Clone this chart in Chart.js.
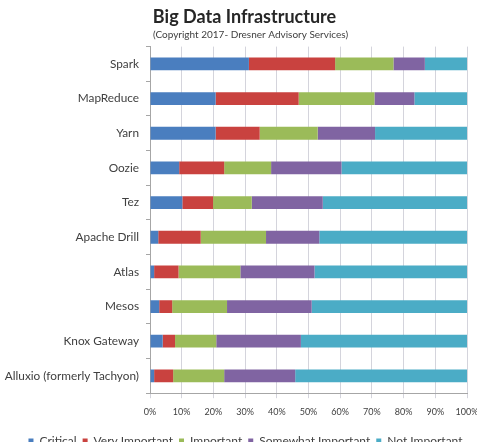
<!DOCTYPE html>
<html>
<head>
<meta charset="utf-8">
<script src="https://cdn.jsdelivr.net/npm/chart.js@4/dist/chart.umd.min.js"></script>
<style>
  html, body { margin: 0; padding: 0; background: #ffffff; }
  #wrap { width: 477px; height: 442px; position: relative; }
</style>
</head>
<body>
<div id="wrap"><canvas id="c" width="477" height="442"></canvas></div>
<script>
const categories = ["Spark", "MapReduce", "Yarn", "Oozie", "Tez", "Apache Drill", "Atlas", "Mesos", "Knox Gateway", "Alluxio (formerly Tachyon)"];
const critical          = [31.2, 20.7, 20.7,  9.2, 10.2,  2.6,  1.3,  2.9,  4.0,  1.3];
const veryImportant     = [27.2, 26.2, 13.9, 14.2,  9.7, 13.4,  7.7,  4.1,  3.9,  6.0];
const important         = [18.4, 23.9, 18.3, 14.8, 12.2, 20.6, 19.5, 17.3, 13.0, 16.1];
const somewhatImportant = [ 9.9, 12.6, 18.1, 22.2, 22.4, 16.8, 23.4, 26.7, 26.7, 22.4];
const notImportant      = [13.3, 16.6, 29.0, 39.6, 45.5, 46.6, 48.1, 49.0, 52.4, 54.2];
const seriesNames = ["Critical", "Very Important", "Important", "Somewhat Important", "Not Important"];
const seriesColors = ["#4a7ebf", "#c9423f", "#9bbb59", "#8064a2", "#4bacc6"];
const xTicks = [0, 10, 20, 30, 40, 50, 60, 70, 80, 90, 100];

const TITLE = 'Big Data Infrastructure';
const SUBTITLE = '(Copyright 2017- Dresner Advisory Services)';
const FONT = "Lato, 'Liberation Sans', sans-serif";
const seriesData = [critical, veryImportant, important, somewhatImportant, notImportant];

const shiftBoxes = {
  id: 'shiftBoxes',
  afterLayout(chart) {
    const l = chart.legend;
    if (l) { l.left += 12; l.right += 12; }
    for (const b of chart.boxes) {
      if (!b.options || typeof b.options.text !== 'string') continue;
      const d = b.options.text === TITLE ? 11 : (b.options.text === SUBTITLE ? 17 : 0);
      b.left += d; b.right += d;
    }
  }
};

new Chart(document.getElementById('c'), {
  type: 'bar',
  data: {
    labels: categories,
    datasets: seriesNames.map((n, i) => ({
      label: n,
      data: seriesData[i],
      backgroundColor: seriesColors[i],
      borderWidth: 0,
      barPercentage: 0.74,
      categoryPercentage: 0.5
    }))
  },
  plugins: [shiftBoxes],
  options: {
    indexAxis: 'y',
    responsive: false,
    animation: false,
    devicePixelRatio: 1,
    layout: { padding: { left: 0, right: 10, top: 0, bottom: -15 } },
    plugins: {
      title: {
        display: true,
        text: TITLE,
        color: '#262626',
        font: { family: FONT, size: 18, weight: 'bold' },
        padding: { top: 6, bottom: 1 }
      },
      subtitle: {
        display: true,
        text: SUBTITLE,
        color: '#404040',
        font: { family: FONT, size: 10 },
        padding: { top: 0, bottom: 6 }
      },
      legend: {
        position: 'bottom',
        labels: {
          color: '#404040',
          font: { family: FONT, size: 12 },
          boxWidth: 5,
          boxHeight: 5,
          padding: 6
        }
      },
      tooltip: { enabled: false }
    },
    scales: {
      x: {
        stacked: true,
        min: 0,
        max: 100,
        afterBuildTicks: (s) => { s.ticks = xTicks.map(v => ({ value: v })); },
        afterFit: (s) => { s.paddingRight = 0; s.paddingLeft = 0; s.height += 4; },
        ticks: {
          color: '#404040',
          font: { family: FONT, size: 9 },
          padding: 8,
          callback: (v) => v + '%'
        },
        grid: { color: '#d4d4dc', lineWidth: 1, tickLength: 5 },
        border: { color: '#a6a6a6' }
      },
      y: {
        stacked: true,
        afterFit: (s) => { s.width = 150; },
        ticks: {
          color: '#404040',
          font: { family: FONT, size: 11.8 },
          padding: 7
        },
        grid: { drawOnChartArea: false, offset: true, tickLength: 4, color: '#a6a6a6' },
        border: { color: '#a6a6a6' }
      }
    }
  }
});
</script>
</body>
</html>
